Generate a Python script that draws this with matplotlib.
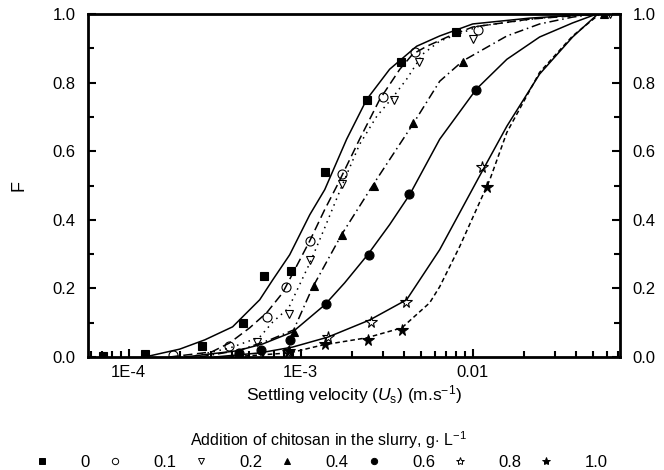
import numpy as np
import matplotlib
matplotlib.use("Agg")
import matplotlib.pyplot as plt
from matplotlib.lines import Line2D
from matplotlib.ticker import FixedLocator, LogLocator, NullFormatter, MultipleLocator

plt.rcParams["font.family"] = ["Liberation Sans", "DejaVu Sans"]
plt.rcParams["mathtext.fontset"] = "custom"
plt.rcParams["mathtext.rm"] = "Liberation Sans"
plt.rcParams["mathtext.it"] = "Liberation Sans:italic"

# chitosan dose labels (g/L)
labels = ["0", "0.1", "0.2", "0.4", "0.6", "0.8", "1.0"]

# measured points: settling velocity (m/s) and cumulative fraction F
x_0 = [7.06e-5, 1.24e-4, 2.66e-4, 4.60e-4, 6.09e-4, 8.75e-4, 1.38e-3, 2.42e-3, 3.81e-3, 7.96e-3]
f_0 = [0.003, 0.009, 0.032, 0.099, 0.237, 0.251, 0.538, 0.749, 0.860, 0.947]
x_01 = [1.80e-4, 3.81e-4, 6.34e-4, 8.18e-4, 1.13e-3, 1.75e-3, 3.00e-3, 4.60e-3, 1.08e-2]
f_01 = [0.006, 0.032, 0.117, 0.205, 0.339, 0.535, 0.757, 0.889, 0.953]
x_02 = [5.55e-4, 8.51e-4, 1.14e-3, 1.75e-3, 3.47e-3, 4.85e-3, 1.01e-2, 6.3e-2]
f_02 = [0.044, 0.126, 0.284, 0.503, 0.749, 0.860, 0.927, 1.0]
x_04 = [4.36e-4, 9.10e-4, 1.19e-3, 1.75e-3, 2.66e-3, 4.48e-3, 8.75e-3, 5.8e-2]
f_04 = [0.012, 0.073, 0.208, 0.357, 0.500, 0.681, 0.860, 1.0]
x_06 = [4.36e-4, 5.85e-4, 8.63e-4, 1.40e-3, 2.48e-3, 4.25e-3, 1.05e-2]
f_06 = [0.012, 0.020, 0.050, 0.155, 0.298, 0.474, 0.778]
x_08 = [8.40e-4, 1.44e-3, 2.55e-3, 4.08e-3, 1.14e-2]
f_08 = [0.015, 0.058, 0.102, 0.161, 0.553]
x_10 = [8.60e-4, 1.38e-3, 2.45e-3, 3.87e-3, 1.21e-2]
f_10 = [0.018, 0.038, 0.050, 0.079, 0.497]

# fitted curves
cx_0 = [1.24e-4, 1.98e-4, 2.77e-4, 4.02e-4, 5.78e-4, 6.88e-4, 8.63e-4, 1.13e-3, 1.38e-3,
        1.85e-3, 2.42e-3, 3.29e-3, 4.72e-3, 6.43e-3, 1.00e-2, 2.14e-2, 5.26e-2]
cf_0 = [0.0, 0.023, 0.050, 0.088, 0.167, 0.225, 0.298, 0.415, 0.488,
        0.635, 0.751, 0.839, 0.906, 0.936, 0.971, 0.988, 1.0]
cx_01 = [1.73e-4, 3.04e-4, 3.86e-4, 5.05e-4, 6.34e-4, 7.85e-4, 1.13e-3, 1.38e-3, 1.64e-3,
         2.20e-3, 2.88e-3, 3.77e-3, 4.48e-3, 5.41e-3, 7.35e-3, 1.00e-2, 2.14e-2, 5.26e-2]
cf_01 = [0.0, 0.015, 0.041, 0.085, 0.129, 0.187, 0.339, 0.430, 0.503,
         0.635, 0.751, 0.839, 0.883, 0.906, 0.936, 0.962, 0.985, 1.0]
cx_02 = [2.26e-4, 3.86e-4, 5.78e-4, 6.88e-4, 8.51e-4, 1.14e-3, 1.38e-3, 1.75e-3, 2.20e-3,
         2.77e-3, 3.43e-3, 4.13e-3, 5.12e-3, 6.43e-3, 1.10e-2, 2.45e-2, 5.26e-2]
cf_02 = [0.0, 0.026, 0.058, 0.102, 0.143, 0.278, 0.377, 0.503, 0.620,
         0.702, 0.757, 0.810, 0.883, 0.921, 0.965, 0.988, 1.0]
cx_04 = [2.59e-4, 4.42e-4, 6.61e-4, 9.10e-4, 1.17e-3, 1.73e-3, 2.69e-3, 4.48e-3, 6.43e-3,
         8.75e-3, 1.58e-2, 2.45e-2, 3.81e-2, 5.26e-2]
cf_04 = [0.0, 0.020, 0.050, 0.079, 0.202, 0.357, 0.509, 0.678, 0.804,
         0.863, 0.936, 0.971, 0.991, 1.0]
cx_06 = [2.12e-4, 4.25e-4, 6.01e-4, 8.98e-4, 1.38e-3, 1.80e-3, 2.45e-3, 3.29e-3, 4.31e-3,
         6.43e-3, 1.05e-2, 1.58e-2, 2.45e-2, 3.81e-2, 5.26e-2]
cf_06 = [0.0, 0.018, 0.038, 0.073, 0.152, 0.216, 0.298, 0.386, 0.474,
         0.635, 0.781, 0.868, 0.933, 0.974, 1.0]
cx_08 = [3.16e-4, 5.78e-4, 8.98e-4, 1.44e-3, 2.52e-3, 4.13e-3, 6.43e-3, 1.07e-2, 1.58e-2,
         2.45e-2, 3.81e-2, 5.26e-2]
cf_08 = [0.0, 0.012, 0.029, 0.058, 0.108, 0.167, 0.313, 0.518, 0.673,
         0.825, 0.933, 0.997]
cx_10 = [3.86e-4, 8.63e-4, 1.34e-3, 2.42e-3, 3.87e-3, 5.62e-3, 6.43e-3, 8.40e-3, 1.26e-2,
         1.58e-2, 2.45e-2, 3.81e-2, 5.47e-2]
cf_10 = [0.0, 0.012, 0.035, 0.056, 0.085, 0.158, 0.205, 0.322, 0.518,
         0.655, 0.830, 0.936, 1.0]

points = [(x_0, f_0), (x_01, f_01), (x_02, f_02), (x_04, f_04), (x_06, f_06), (x_08, f_08), (x_10, f_10)]
curves = [(cx_0, cf_0), (cx_01, cf_01), (cx_02, cf_02), (cx_04, cf_04), (cx_06, cf_06), (cx_08, cf_08), (cx_10, cf_10)]

markers = ["s", "o", "v", "^", "o", "*", "*"]
filled = [True, False, False, True, True, False, True]
msizes = [6, 6.5, 5.5, 5.5, 6.5, 8.5, 8.5]
linestyles = ["-", (0, (6, 3)), (0, (1, 3)), (0, (6, 2.5, 1, 2.5)), "-", "-", (0, (3, 2))]

fig = plt.figure(figsize=(6.64, 4.70), dpi=100)
ax = fig.add_axes([0.1325, 0.2404, 0.8015, 0.7298])

for (cx, cf), ls in zip(curves, linestyles):
    ax.plot(cx, cf, color="black", linestyle=ls, linewidth=1.1, zorder=2)

for (px, pf), m, fl, ms in zip(points, markers, filled, msizes):
    ax.plot(px, pf, linestyle="none", marker=m, markersize=ms,
            markerfacecolor="black" if fl else "none", markeredgecolor="black",
            markeredgewidth=0.8, zorder=3)

ax.set_xscale("log")
ax.set_xlim(5.8e-5, 0.072)
ax.set_ylim(0, 1.0)

ax.xaxis.set_major_locator(FixedLocator([1e-4, 1e-3, 1e-2]))
ax.set_xticklabels(["1E-4", "1E-3", "0.01"])
ax.xaxis.set_minor_locator(LogLocator(base=10, subs=np.arange(2, 10)))
ax.xaxis.set_minor_formatter(NullFormatter())
ax.yaxis.set_major_locator(MultipleLocator(0.2))
ax.yaxis.set_minor_locator(MultipleLocator(0.1))
ax.yaxis.set_major_formatter(plt.FuncFormatter(lambda v, p: "%.1f" % v))

ax.tick_params(which="both", direction="in", top=False, right=True, labelright=True,
               width=1.5, labelsize=12)
ax.tick_params(axis="y", which="major", length=6, pad=9)
ax.tick_params(axis="x", which="major", length=6, pad=6)
ax.tick_params(which="minor", length=4)
for s in ax.spines.values():
    s.set_linewidth(2)

ax.set_xlabel(r"Settling velocity ($U_\mathrm{s}$) (m.s$^{-1}$)", fontsize=12.5, labelpad=2)
ax.set_ylabel("F", fontsize=13, labelpad=18)

handles = [Line2D([], [], linestyle="none", marker=m, markersize=ms * 0.7,
                  markerfacecolor="black" if fl else "none", markeredgecolor="black",
                  markeredgewidth=0.7)
           for m, fl, ms in zip(markers, filled, msizes)]
leg = fig.legend(handles, labels, loc="lower center", bbox_to_anchor=(0.483, -0.024), ncol=7,
                 frameon=False, fontsize=12, title=r"Addition of chitosan in the slurry, g$\cdot$ L$^{-1}$",
                 title_fontsize=11.5, handletextpad=1.8, columnspacing=1.0, handlelength=1.0,
                 borderpad=0.2, labelspacing=0.2)
leg.get_title().set_position((8, 0))

fig.savefig("out.png", dpi=100)
